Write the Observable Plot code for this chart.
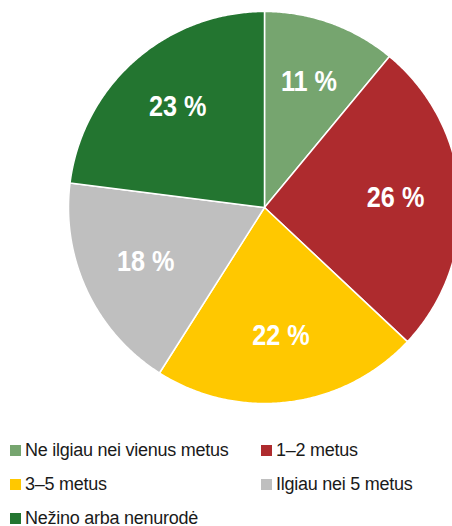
<!DOCTYPE html>
<html>
<head>
<meta charset="utf-8">
<script src="https://cdn.jsdelivr.net/npm/d3@7"></script>
<script src="https://cdn.jsdelivr.net/npm/@observablehq/plot@0.6"></script>
<style>
  html, body { margin: 0; padding: 0; background: #fff; overflow: hidden; }
  body { position: relative; width: 452px; height: 526px; }
  #chart { position: absolute; left: 0; top: 0; }
  #legend { position: absolute; left: 10px; top: 433px; display: grid; grid-template-columns: 251px 190px;
    font-family: "Liberation Sans", Arial, sans-serif; font-size: 18px; color: #1a1a1a; letter-spacing: -0.25px; }
  .item { height: 34px; display: flex; align-items: center; white-space: nowrap; }
  .sw { width: 11px; height: 11px; margin-right: 4px; flex: none; }
</style>
</head>
<body>
<div id="chart"></div>
<div id="legend"></div>
<script>
const categories = ["Ne ilgiau nei vienus metus", "1–2 metus", "3–5 metus", "Ilgiau nei 5 metus", "Nežino arba nenurodė"];
const values = [11, 26, 22, 18, 23];
const labels = ["11 %", "26 %", "22 %", "18 %", "23 %"];
const colors = ["#76a56f", "#ae2b2e", "#ffc800", "#bfbfbf", "#237530"];

const arcs = d3.pie().sort(null)(values);
const pts = [];
const textData = [];
arcs.forEach((a, i) => {
  const cat = categories[i];
  pts.push({cat, x: 0, y: 0});
  const n = Math.max(2, Math.ceil((a.endAngle - a.startAngle) / (Math.PI / 360)));
  for (let k = 0; k <= n; k++) {
    const t = a.startAngle + (a.endAngle - a.startAngle) * k / n;
    pts.push({cat, x: Math.sin(t), y: Math.cos(t)});
  }
  pts.push({cat, x: 0, y: 0});
  const m = (a.startAngle + a.endAngle) / 2;
  textData.push({text: labels[i], x: 0.67 * Math.sin(m), y: 0.67 * Math.cos(m)});
});

const chart = Plot.plot({
  width: 452,
  height: 420,
  margin: 0,
  x: {domain: [-1, 1], range: [68, 460], axis: null},
  y: {domain: [-1, 1], range: [403, 11], axis: null},
  color: {domain: categories, range: colors},
  marks: [
    Plot.line(pts, {x: "x", y: "y", z: "cat", fill: "cat", stroke: "white", strokeWidth: 1.5, curve: "linear"}),
    Plot.text(textData, {x: "x", y: "y", text: "text", fill: "white", fontSize: 29, fontWeight: "bold",
      fontFamily: "'Liberation Sans', Arial, sans-serif", dy: -2})
  ]
});
// condense the slice labels horizontally (narrow bold look)
chart.querySelectorAll("text").forEach((t) => {
  const x = +t.getAttribute("x") || 0;
  const y = +t.getAttribute("y") || 0;
  const prev = t.getAttribute("transform") || "";
  t.setAttribute("transform", `${prev} translate(${x},${y}) scale(0.87,1) translate(${-x},${-y})`);
});
document.getElementById("chart").appendChild(chart);

const legend = document.getElementById("legend");
categories.forEach((c, i) => {
  const it = document.createElement("div");
  it.className = "item";
  const sw = document.createElement("span");
  sw.className = "sw";
  sw.style.background = colors[i];
  it.appendChild(sw);
  it.appendChild(document.createTextNode(c));
  legend.appendChild(it);
});
</script>
</body>
</html>
